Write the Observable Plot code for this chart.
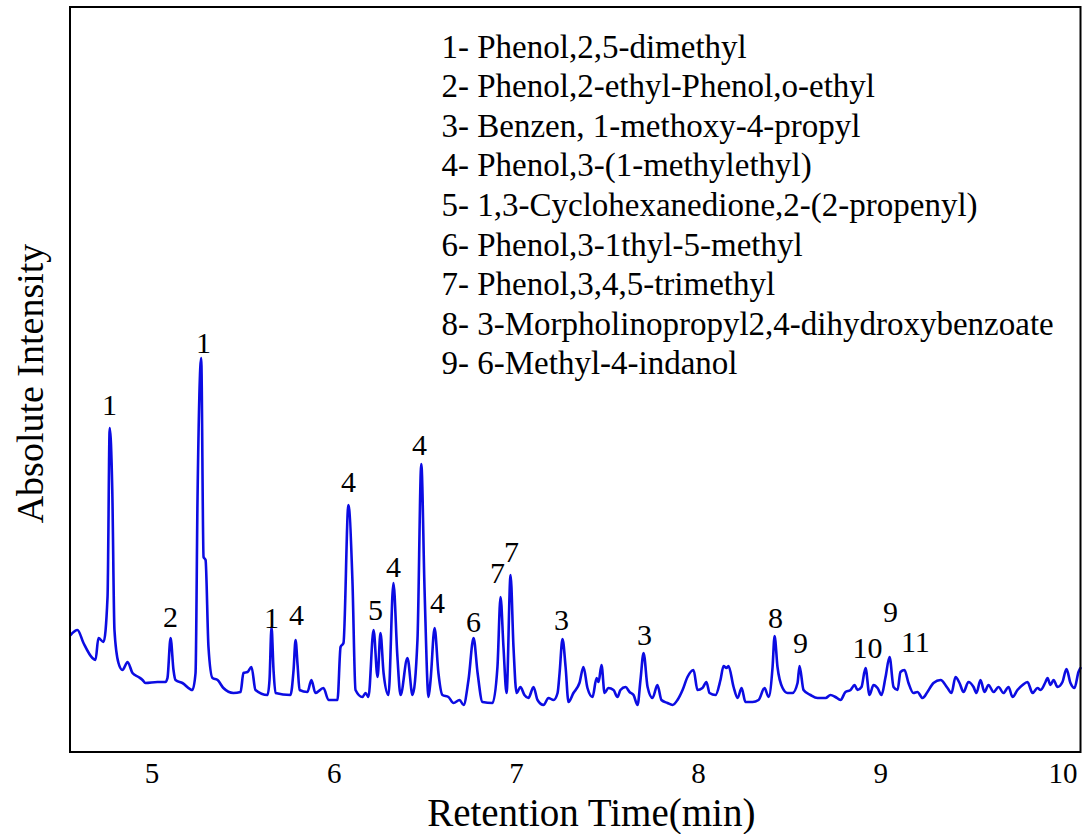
<!DOCTYPE html>
<html>
<head>
<meta charset="utf-8">
<script src="https://cdn.jsdelivr.net/npm/d3@7"></script>
<script src="https://cdn.jsdelivr.net/npm/@observablehq/plot@0.6"></script>
<style>
  html, body { margin: 0; padding: 0; background: #fff; overflow: hidden; }
  #chart svg { display: block; }
</style>
</head>
<body>
<div id="chart"></div>
<script>
const retentionTime = [
  4.553,4.591,4.624,4.673,4.690,4.706,4.734,4.756,4.768,4.782,
  4.794,4.816,4.838,4.866,4.893,4.926,4.948,4.964,5.030,5.074,
  5.085,5.102,5.118,5.129,5.167,5.222,5.239,5.250,5.270,5.283,
  5.294,5.310,5.332,5.360,5.392,5.447,5.486,5.502,5.524,5.546,
  5.568,5.634,5.645,5.656,5.667,5.678,5.760,5.777,5.788,5.799,
  5.810,5.853,5.875,5.897,5.941,5.969,6.018,6.035,6.051,6.078,
  6.100,6.117,6.155,6.172,6.188,6.216,6.238,6.254,6.271,6.298,
  6.325,6.347,6.364,6.402,6.430,6.457,6.478,6.496,6.518,6.529,
  6.551,6.572,6.594,6.627,6.655,6.688,6.710,6.737,6.765,6.787,
  6.814,6.869,6.896,6.913,6.929,6.946,6.968,6.984,7.001,7.022,
  7.044,7.066,7.094,7.116,7.149,7.176,7.204,7.226,7.237,7.253,
  7.270,7.286,7.313,7.346,7.368,7.390,7.418,7.440,7.451,7.467,
  7.484,7.505,7.533,7.555,7.571,7.599,7.621,7.643,7.665,7.681,
  7.698,7.720,7.747,7.774,7.796,7.829,7.857,7.884,7.912,7.939,
  7.972,7.994,8.021,8.043,8.060,8.093,8.120,8.137,8.153,8.164,
  8.192,8.214,8.236,8.257,8.296,8.329,8.362,8.384,8.406,8.417,
  8.433,8.461,8.488,8.515,8.543,8.554,8.576,8.614,8.653,8.697,
  8.724,8.751,8.779,8.806,8.834,8.856,8.872,8.894,8.916,8.938,
  8.960,8.982,9.004,9.026,9.048,9.070,9.092,9.108,9.130,9.152,
  9.179,9.201,9.229,9.256,9.289,9.328,9.366,9.388,9.410,9.432,
  9.454,9.481,9.509,9.525,9.547,9.569,9.591,9.619,9.646,9.673,
  9.701,9.723,9.750,9.778,9.805,9.833,9.860,9.877,9.904,9.915,
  9.931,9.948,9.970,9.997,10.019,10.041,10.063,10.085,10.096
];
// Absolute intensity (arbitrary units) at each retention time
const absoluteIntensity = [
  117,122,109,94,92,114,110,155,324,262,
  122,89,82,90,79,75,72,69,70,70,
  74,114,82,72,69,62,79,255,394,195,
  192,105,74,72,64,59,60,79,80,85,
  62,57,72,125,82,59,57,82,112,87,
  62,60,72,59,64,52,52,105,109,247,
  172,62,55,59,55,122,75,119,79,57,
  169,95,57,94,57,112,288,162,55,72,
  124,79,57,55,49,52,47,72,114,79,
  50,49,85,155,105,59,177,105,59,65,
  57,54,65,52,47,54,52,59,79,113,
  85,50,59,69,85,64,55,74,70,87,
  59,64,62,55,62,65,60,57,47,72,
  99,65,54,67,52,49,47,52,62,75,
  82,62,64,70,59,57,72,86,84,86,
  65,54,64,50,50,52,64,55,85,116,
  85,64,59,59,69,86,62,57,54,54,
  57,55,52,60,62,67,62,65,84,57,
  67,64,57,75,95,65,62,80,82,69,
  59,60,54,60,69,72,64,59,75,69,
  60,70,65,59,72,60,67,60,65,59,
  65,55,62,67,70,59,64,62,70,74,
  67,72,65,70,83,69,64,80,84
];

// Peak annotations
const peakLabel      = ["1","2","1","1","4","4","5","4","4","4","6","7","7","3","3","8","9","10","9","11"];
const peakLabelTime  = [4.767,5.102,5.283,5.656,5.793,6.078,6.227,6.325,6.468,6.567,6.765,6.896,6.973,7.248,7.703,8.422,8.559,8.927,9.053,9.190];
const peakLabelLevel = [337,125,399,124,127,260,132,175,297,139,120,169,190,122,107,124,99,94,130,100];

// Compound key
const legendEntries = [
  "1- Phenol,2,5-dimethyl",
  "2- Phenol,2-ethyl-Phenol,o-ethyl",
  "3- Benzen, 1-methoxy-4-propyl",
  "4- Phenol,3-(1-methylethyl)",
  "5- 1,3-Cyclohexanedione,2-(2-propenyl)",
  "6- Phenol,3-1thyl-5-methyl",
  "7- Phenol,3,4,5-trimethyl",
  "8- 3-Morpholinopropyl2,4-dihydroxybenzoate",
  "9- 6-Methyl-4-indanol"
];

const xTicks = [5, 6, 7, 8, 9, 10];
const xDomain = [4.55, 10.096];
const yDomain = [0, 745];
const xTitle = "Retention Time(min)";
const yTitle = "Absolute Intensity";

const trace = retentionTime.map((t, i) => ({t, v: absoluteIntensity[i]}));
const peaks = peakLabel.map((label, i) => ({label, t: peakLabelTime[i], v: peakLabelLevel[i]}));

const serif = "'Liberation Serif', 'Times New Roman', Times, serif";

const chart = Plot.plot({
  width: 1091,
  height: 834,
  marginLeft: 69.5,
  marginRight: 11,
  marginTop: 6.5,
  marginBottom: 82.5,
  style: {fontFamily: serif, background: "#fff", color: "#000", overflow: "visible"},
  x: {domain: xDomain},
  y: {domain: yDomain, axis: null},
  marks: [
    Plot.axisX({ticks: xTicks, tickSize: 0, tickPadding: 10.5, fontSize: 29, label: null, tickFormat: d => String(d)}),
    Plot.line(trace, {x: "t", y: "v", stroke: "#0c0ce2", strokeWidth: 2.6, curve: "monotone-x"}),
    Plot.text(peaks, {x: "t", y: "v", text: "label", fontSize: 30, lineAnchor: "bottom", fill: "#000"}),
    Plot.text([legendEntries.join("\n")], {
      frameAnchor: "top-left", dx: 371.5, dy: 22.4, lineAnchor: "top",
      textAnchor: "start", lineHeight: 1.2, fontSize: 33, fill: "#000"
    }),
    Plot.text([xTitle], {frameAnchor: "bottom", textAnchor: "middle", dx: 16, dy: 73.5, lineAnchor: "bottom", fontSize: 39, fill: "#000"}),
    Plot.text([yTitle], {frameAnchor: "left", textAnchor: "middle", rotate: -90, dx: -27, dy: 4, lineAnchor: "bottom", fontSize: 38, fill: "#000"}),
    Plot.frame({stroke: "#000", strokeWidth: 2})
  ]
});

document.getElementById("chart").appendChild(chart);
</script>
</body>
</html>
